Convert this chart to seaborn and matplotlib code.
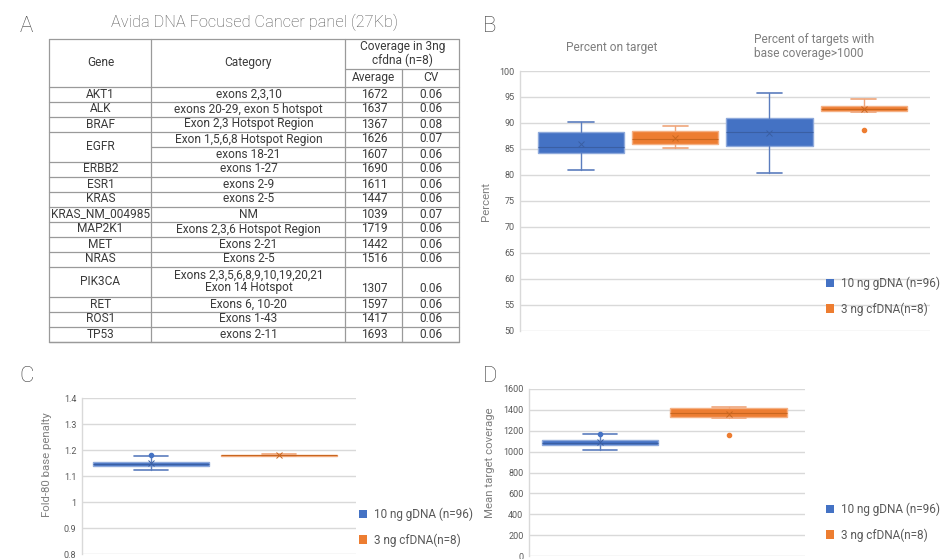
import matplotlib
matplotlib.use("Agg")
import matplotlib.pyplot as plt
import seaborn as sns
from matplotlib.patches import Patch
from matplotlib.ticker import FuncFormatter

# ---------------- panel A: table ----------------
table_title = "Avida DNA Focused Cancer panel (27Kb)"
table_genes = ["AKT1", "ALK", "BRAF", "EGFR", "EGFR", "ERBB2", "ESR1", "KRAS",
               "KRAS_NM_004985", "MAP2K1", "MET", "NRAS", "PIK3CA", "RET", "ROS1", "TP53"]
table_categories = ["exons 2,3,10", "exons 20-29, exon 5 hotspot", "Exon 2,3 Hotspot Region",
                    "Exon 1,5,6,8 Hotspot Region", "exons 18-21", "exons 1-27", "exons 2-9",
                    "exons 2-5", "NM", "Exons 2,3,6 Hotspot Region", "Exons 2-21", "Exons 2-5",
                    "Exons 2,3,5,6,8,9,10,19,20,21\nExon 14 Hotspot", "Exons 6, 10-20",
                    "Exons 1-43", "exons 2-11"]
table_average = [1672, 1637, 1367, 1626, 1607, 1690, 1611, 1447, 1039, 1719, 1442, 1516,
                 1307, 1597, 1417, 1693]
table_cv = [0.06, 0.06, 0.08, 0.07, 0.06, 0.06, 0.06, 0.06, 0.07, 0.06, 0.06, 0.06,
            0.06, 0.06, 0.06, 0.06]

# ---------------- shared ----------------
series_labels = ["10 ng gDNA (n=96)", "3 ng cfDNA(n=8)"]

# ---------------- panel B ----------------
b_groups = ["Percent on target", "Percent of targets with\nbase coverage>1000"]
b_gdna_min = [80.9, 80.3]
b_gdna_q1 = [84.2, 85.6]
b_gdna_med = [85.3, 88.3]
b_gdna_q3 = [88.3, 91.0]
b_gdna_max = [90.1, 95.8]
b_gdna_mean = [86.0, 88.0]
b_gdna_out = [[], []]
b_cf_min = [85.1, 92.2]
b_cf_q1 = [86.0, 92.3]
b_cf_med = [86.9, 92.7]
b_cf_q3 = [88.5, 93.3]
b_cf_max = [89.4, 94.6]
b_cf_mean = [87.2, 92.7]
b_cf_out = [[], [88.6]]

# ---------------- panel C (gDNA, cfDNA) ----------------
c_min = [1.123, 1.177]
c_q1 = [1.137, 1.178]
c_med = [1.146, 1.180]
c_q3 = [1.155, 1.181]
c_max = [1.178, 1.183]
c_mean = [1.149, 1.180]
c_out = [[1.182], []]

# ---------------- panel D (gDNA, cfDNA) ----------------
d_min = [1014, 1326]
d_q1 = [1065, 1330]
d_med = [1085, 1368]
d_q3 = [1110, 1416]
d_max = [1165, 1432]
d_mean = [1088, 1358]
d_out = [[1171], [1158]]

sns.set_theme(style="white")
plt.rcParams["font.family"] = ["Roboto", "DejaVu Sans"]

W, H = 949, 559
fig = plt.figure(figsize=(W / 100, H / 100), dpi=100)

FILL = ["#4472C4", "#ED7D31"]
EDGE = ["#8EA9DB", "#F4B084"]
WHISK = ["#5B7DBE", "#EFA57A"]
DARK = ["#3A5FA3", "#C8661F"]
GRID = "#D9D9D9"
TXT = "#3A3A3A"
LAB = "#7F7F7F"


def px_axes(left, top, right, bottom):
    return fig.add_axes([left / W, 1 - bottom / H, (right - left) / W, (bottom - top) / H])


overlay = fig.add_axes([0, 0, 1, 1])
overlay.set_xlim(0, W)
overlay.set_ylim(H, 0)
overlay.axis("off")

# panel letters
for letter, (x, y) in zip("ABCD", [(26, 26), (490, 26), (27, 377), (490, 377)]):
    overlay.text(x, y, letter, fontsize=16, color="#404040", ha="center", va="center",
                 fontweight="light")

# ---- table ----
cols = [49.5, 151.5, 345.5, 402.5, 459.5]
top, sub, head_bot, row_h = 38.5, 68.5, 86.5, 15.0
line_kw = dict(color="#9A9A9A", lw=0.9)
tfs = 8.6

overlay.text((cols[0] + cols[-1]) / 2, 22, table_title, fontsize=11.8, color="#555555",
             ha="center", va="center", fontweight="light")

heights = [row_h * (c.count("\n") + 1) for c in table_categories]
bottom = head_bot + sum(heights)

# outer and column lines
overlay.plot([cols[0], cols[-1]], [top, top], **line_kw)
overlay.plot([cols[0], cols[-1]], [bottom, bottom], **line_kw)
for x in cols[:3] + cols[4:]:
    overlay.plot([x, x], [top, bottom], **line_kw)
overlay.plot([cols[3], cols[3]], [sub, bottom], **line_kw)
overlay.plot([cols[2], cols[4]], [sub, sub], **line_kw)
overlay.plot([cols[0], cols[-1]], [head_bot, head_bot], **line_kw)

# headers
hy = (top + head_bot) / 2
overlay.text((cols[0] + cols[1]) / 2, hy, "Gene", fontsize=tfs, color=TXT, ha="center", va="center")
overlay.text((cols[1] + cols[2]) / 2, hy, "Category", fontsize=tfs, color=TXT, ha="center", va="center")
overlay.text((cols[2] + cols[4]) / 2, (top + sub) / 2, "Coverage in 3ng\ncfdna (n=8)", fontsize=tfs,
             color=TXT, ha="center", va="center", linespacing=1.0)
overlay.text((cols[2] + cols[3]) / 2, (sub + head_bot) / 2, "Average", fontsize=tfs, color=TXT,
             ha="center", va="center")
overlay.text((cols[3] + cols[4]) / 2, (sub + head_bot) / 2, "CV", fontsize=tfs, color=TXT,
             ha="center", va="center")

# rows
y0 = head_bot
i = 0
while i < len(table_genes):
    # merge identical consecutive gene cells
    j = i
    while j + 1 < len(table_genes) and table_genes[j + 1] == table_genes[i]:
        j += 1
    span_top = y0
    for k in range(i, j + 1):
        h = heights[k]
        yb = y0 + h
        overlay.text((cols[1] + cols[2]) / 2, y0 + h / 2, table_categories[k], fontsize=tfs,
                     color=TXT, ha="center", va="center", linespacing=1.0)
        ytxt = yb - row_h / 2
        overlay.text((cols[2] + cols[3]) / 2, ytxt, str(table_average[k]), fontsize=tfs,
                     color=TXT, ha="center", va="center")
        overlay.text((cols[3] + cols[4]) / 2, ytxt, f"{table_cv[k]:.2f}", fontsize=tfs,
                     color=TXT, ha="center", va="center")
        overlay.plot([cols[1], cols[-1]], [yb, yb], **line_kw)
        y0 = yb
    overlay.text((cols[0] + cols[1]) / 2, (span_top + y0) / 2, table_genes[i], fontsize=tfs,
                 color=TXT, ha="center", va="center")
    overlay.plot([cols[0], cols[1]], [y0, y0], **line_kw)
    i = j + 1


def make_stats(mn, q1, med, q3, mx, mean, out):
    return dict(whislo=mn, q1=q1, med=med, q3=q3, whishi=mx, mean=mean, fliers=out)


def style_axes(ax, ylim, yticks, label, label_x, label_y):
    ax.set_ylim(*ylim)
    ax.set_yticks(yticks)
    ax.set_xticks([])
    ax.yaxis.grid(True, color=GRID, lw=1)
    ax.set_axisbelow(True)
    for s in ["top", "right", "bottom"]:
        ax.spines[s].set_visible(False)
    ax.spines["left"].set_color(GRID)
    ax.spines["left"].set_linewidth(1)
    ax.tick_params(axis="y", length=0, labelsize=6.5, labelcolor="#595959", pad=4)
    ax.set_facecolor("none")
    ax.set_ylabel(label, fontsize=8.2, color=LAB)
    ax.yaxis.set_label_coords(label_x, label_y)
    ax.yaxis.set_major_formatter(FuncFormatter(lambda v, p: f"{v:g}"))


def draw_box(ax, stat, pos, width, capw, ci):
    ax.bxp([stat], positions=[pos], widths=width, capwidths=[capw], showmeans=True,
           patch_artist=True, manage_ticks=False,
           boxprops=dict(facecolor=FILL[ci], edgecolor=EDGE[ci], lw=1),
           whiskerprops=dict(color=WHISK[ci], lw=1),
           capprops=dict(color=WHISK[ci], lw=1.2),
           medianprops=dict(color=DARK[ci], lw=0.8),
           meanprops=dict(marker="x", markeredgecolor=DARK[ci], markersize=5, markeredgewidth=0.7),
           flierprops=dict(marker="o", markerfacecolor=FILL[ci], markeredgecolor=FILL[ci],
                           markersize=3))


def add_legend(ax, x, y):
    handles = [Patch(facecolor=FILL[k], edgecolor="none") for k in range(2)]
    ax.legend(handles, series_labels, loc="upper left", bbox_to_anchor=(x / W, 1 - y / H),
              bbox_transform=fig.transFigure, frameon=False, fontsize=8.5, handlelength=0.7,
              handleheight=0.7, handletextpad=0.6, labelspacing=1.0, borderpad=0,
              borderaxespad=0, labelcolor="#595959")


# ---- panel B ----
axB = px_axes(520, 71, 930, 331)
style_axes(axB, (50, 100), range(50, 101, 5), "Percent", -0.07, 0.5)
for g in range(2):
    st_g = make_stats(b_gdna_min[g], b_gdna_q1[g], b_gdna_med[g], b_gdna_q3[g], b_gdna_max[g],
                      b_gdna_mean[g], b_gdna_out[g])
    st_c = make_stats(b_cf_min[g], b_cf_q1[g], b_cf_med[g], b_cf_q3[g], b_cf_max[g],
                      b_cf_mean[g], b_cf_out[g])
    draw_box(axB, st_g, 2 * g, 0.915, 0.27, 0)
    draw_box(axB, st_c, 2 * g + 1, 0.915, 0.27, 1)
axB.set_xlim(-0.65, 3.705)
overlay.text(612, 47, b_groups[0], fontsize=8.6, color=LAB, ha="center", va="center")
overlay.text(754, 46, b_groups[1], fontsize=8.6, color=LAB, ha="left", va="center", linespacing=1.1)
add_legend(axB, 826, 277)

# ---- panel C ----
axC = px_axes(82, 398, 356, 554)
style_axes(axC, (0.8, 1.4), [0.8, 0.9, 1.0, 1.1, 1.2, 1.3, 1.4], "Fold-80 base penalty", -0.11, 0.57)
for k in range(2):
    draw_box(axC, make_stats(c_min[k], c_q1[k], c_med[k], c_q3[k], c_max[k], c_mean[k], c_out[k]),
             k, 0.905, 0.265, k)
axC.set_xlim(-0.54, 1.597)
add_legend(axC, 359, 508)

# ---- panel D ----
axD = px_axes(529, 389, 805, 556)
style_axes(axD, (0, 1600), range(0, 1601, 200), "Mean target coverage", -0.123, 0.56)
for k in range(2):
    draw_box(axD, make_stats(d_min[k], d_q1[k], d_med[k], d_q3[k], d_max[k], d_mean[k], d_out[k]),
             k, 0.905, 0.264, k)
axD.set_xlim(-0.551, 1.592)
add_legend(axD, 826, 503)

fig.savefig("out.png", dpi=100, facecolor="white")
